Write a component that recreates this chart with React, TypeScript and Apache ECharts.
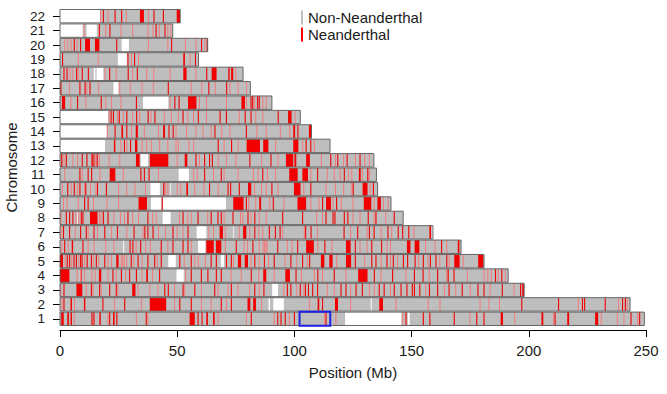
import React, { useEffect, useRef } from "react";
import * as echarts from "echarts";

// ---------- data ----------
const chromosomes = ["1","2","3","4","5","6","7","8","9","10","11","12","13","14","15","16","17","18","19","20","21","22"];

const chromLengthsMb = [249.3, 243.2, 198.0, 191.2, 180.9, 171.1, 159.1, 146.4, 141.2, 135.5, 135.0, 133.9, 115.2, 107.3, 102.5, 90.4, 81.2, 78.1, 59.1, 63.0, 48.1, 51.3];

// unassayed (white) regions per chromosome, [start, end] in Mb
const gapsMb: number[][][] = [
  [[121.6, 145.6], [148.4, 149.2]],
  [[89, 89.6], [91, 95.5], [132.6, 133]],
  [[90.5, 93]],
  [[49.7, 52.8], [8.5, 8.9]],
  [[46.2, 49.4], [68.6, 70]],
  [[58.9, 62], [27, 27.4]],
  [[58.3, 62.4], [73.8, 74.1], [158.6, 159.1]],
  [[43.8, 47.2], [7.4, 7.7]],
  [[38.8, 43.3], [44, 70.8]],
  [[38.6, 42.6], [47, 47.3]],
  [[50.6, 55]],
  [[34.4, 37.6]],
  [[0, 19.2]],
  [[0, 19.9]],
  [[0, 20.5]],
  [[35.4, 46.2]],
  [[22.8, 24.9]],
  [[14.4, 15.1], [15.6, 18.5]],
  [[24.7, 28.5]],
  [[26.3, 29.4]],
  [[0, 9.7], [11.3, 15.7]],
  [[0, 17.1]],
];

// Neanderthal tracts: a number is a single thin tract, a pair is [start, end]
const neanderthalTracts: (number | number[])[][] = [
  [[0.5,1.6],[3.1,3.8],[4.5,5.1],[13.4,13.9],14.5,[16.8,17.4],21.2,[22.6,23.3],[24,24.5],36.8,[55.3,57.5],58.9,60.6,[62.4,63.1],[65.3,66],81.6,92.9,94.3,96.1,100,113.5,147.6,155,157.8,168.2,177.8,180.9,[188,189],[205.4,206.2],211.2,[216.4,217.2],[228.3,229.6],243.6,247.3],
  [1.7,[4.5,5.1],[10.2,10.8],18.3,27.6,[38.3,45.3],51.1,56,68.8,73.1,[80,81.2],[82.4,83.6],[109.9,110.6],112,[117.3,118.6],[136.2,137.8],197,212.7,222.9,223.8,232.6,240,241.2],
  [1.7,[7,9.5],13.4,16.9,21.2,24,[30.8,32.2],44.7,46.2,52.5,57.5,66,73.1,83.1,87,97,98.5,102.5,104.7,106,107.8,109.9,119.9,122,126.3,129,136.2,138.3,142.6,145.5,148,150.3,151.2,153.5,157.6,161.1,166,171.6,178.3,180.9,188.7,196.5,[197.2,198]],
  [[0,4],9,[16.6,17.6],22.6,26.2,29.7,32.6,[36.8,37.5],42.5,56,60.3,63.1,66.7,68.8,81.6,[86.7,88],[96.1,98.1],100.7,110,117,[127.2,131.2],134.1,141.9,151.2,154.9,161.1,165.6,168.1,185.8,188.5],
  [[0,1.3],3.1,4.1,6,7,8.8,9.4,11.6,13.4,15.5,19.1,[24,25],30.4,33.3,37.5,40.4,43.2,51.1,56,64.5,66.7,71,73.1,[75.9,77.3],[78.8,80.2],83.1,87.2,91.4,98.5,103.5,106.5,[111.3,112.8],[114.9,116.3],[122,124.2],126,133,134.8,139.5,142.2,146.5,148.3,151.5,155,158,160.4,165,[168.2,170.5],[178.4,180.6]],
  [2,[5,5.6],9.8,[29.7,30.1],31.1,34.4,43.2,48.2,52.5,54.6,[62.4,65.6],[66.5,68.8],75.2,82.3,92.9,101.4,[105,108.3],113,[122,124],126,133,137.2,[148,149.5],[151.3,153.3],162.8,[169.7,170.4]],
  [1.5,4.1,8.8,11.2,14.5,19.1,24.5,31.6,[36,36.4],37.5,39.7,48.2,54.6,[68.1,69.5],[78.1,79.5],83.1,89.3,91.9,93.9,104.8,107.1,121.2,127,132,134,139.9,144.3,146.2,148.8,[157.6,158.3]],
  [2.7,4.1,5.5,9.1,9.8,[12.8,16],18.5,20.5,29,37.5,52.5,58.9,64.5,67.4,68.8,73.8,80.2,83.1,95,103.5,113.5,116.5,117.3,121.3,122.8,131.5,134.8,142.6],
  [10.5,12,[33.5,37.1],[43.4,43.8],[73.9,78.3],79.5,[85,85.8],91,[101.3,105],112,[113.5,115.6],118,[129.6,132.8],[135.4,136.9]],
  [3.3,6.1,8.5,11,16,19.8,[44,44.5],[53.9,54.6],63.8,71.7,72.8,76.5,[80.2,81.6],90.4,[99.8,102.6],107,125.1,[129.1,131.2],133.7],
  [8.5,12,13.5,[21.2,23.6],34.5,36,38,61.7,68.8,86.5,[97.8,101.4],[103.4,105.8],109.9,121.3,[127.5,128.3],131.3],
  [[0.5,1],2.7,9.5,11.5,[13.4,14],14.5,15.9,[32.4,34],[38.3,46.2],[53.2,54.3],58,61.7,63.8,65,81,90,[96.4,99.5],[100,100.8],[105,106.6],115.5,118.5,122.5,128],
  [[23,23.6],27.5,30.1,[32,33],67.5,73.2,[79.6,85.3],[86.7,88.9],[99.5,101.7],105,107],
  [23.5,[26.2,26.9],28.5,[32.3,33.2],[44,44.8],46.5,48.3,66.1,79.5,[99.5,100.3],101.5,[106.2,107.3]],
  [21.8,22.8,25.3,28.5,32.7,37.6,40.5,52.5,59,68.3,71,79,81.5,93.1,[97.3,98.8]],
  [[0.8,2.2],7.5,17.6,32.6,49,50.8,[54.6,58.2],[77.4,78.9],81.5,82.2,84.3,85],
  [0.4,8.5,10.7,12.8,46.2,63.5,71.1],
  [1.7,3,7.1,9.5,12.1,21.2,29.1,33,[52.6,54],62.6,[64.7,66.8],[71.8,72.4],[73,73.9]],
  [1.1,29,31.8,[52.6,53.3],57.8],
  [6.1,8.8,[10.7,12.8],[14.9,16.8],24.2,47.6,60.4,[62.6,63]],
  [16.8,21.3,41,44.8],
  [18.5,23.5,26.3,[34.1,35.8],40.1,44.1,[49.8,51.2]],
];

// faint (pale) Neanderthal calls, positions in Mb
const faintTracts: number[][] = [
  [6.1,20.5,32.6,37.5,67.4,79.5,91.4,97.8,112.8,117.7,146.2,174.9,194,210.6,230.9,237.8,240.6,246.5],
  [0.85,6.2,23.3,34.7,48.9,60.3,64.5,71,86,106.4,124,143.4,157.1,162.1,179.2,183,187.5,221.1,238.3,242],
  [0.3,11.2,14.1,17.6,24.7,33.3,38.3,41.8,48.9,53.2,60.3,67.4,71.7,75.9,80.9,85,95.5,101,104,114,117,124,132,134.1,141,156,164,168.8,175,183.5,193.7],
  [7.3,10.5,13.6,15,20.5,24,28,35,39.5,53.6,73,77.3,84.8,91.4,103,108.5,112,122,137,147.6,157.5,165,173.8,180.9,182.5,184,187,190],
  [2.2,5,8,10.5,14.3,16.5,20.5,22,26.2,26.8,27.4,28.5,31.5,35,41.5,53,57.5,59,62,74,81.5,85,89,96,101,105.5,118,130,137,141,144,153,157,162,166,172],
  [0.8,3.5,12,14.5,19.5,23,32.5,36.5,38.5,46,56,70.5,78.5,80,85,86.6,87.2,87.8,88.4,97,99,110,116,128,131,139.5,141,156,160,165],
  [0.5,6.5,12,16,22,28.5,35.4,42,45,50,52.5,63.5,65.5,70.5,76.5,81,84.8,86.5,95,104.2,109.8,124,131,137,141.5,151],
  [0.5,6.8,8,16.8,17.5,23,25.8,27.5,31,33.5,39.5,41,51,54.5,56,63,70,77,78,81.5,85,88,109.5,112,125,128,134,139],
  [1.5,3,7.8,14.3,20,25,80.5,83.5,89.5,95.5,107,110.5,116.5,120,125,134,138,140],
  [1,4.8,7.5,10.5,13,15.3,25,28.5,32,36.5,45,46,50,51.5,57.5,61.5,67.5,83,86,88,93,104,113.5,117.5,121,124.5,132.3],
  [2,9.5,17,27,42,57,58.5,65.5,70,76,82.5,84.5,88.5,92,107,114,117,119.5,123,124.5,129,132],
  [1.7,5.5,7.5,15.3,16.8,21,25.5,50,59.5,67.5,71,75,86,93,111.5,117.5,121,126,130,132],
  [26,28.5,35,37,39,42.5,46,49.5,50.5,55,57,70,76,92,103.5,108.5],
  [20.2,30.5,36,42,49.5,54,58,61,64.5,69,72.5,84,88,94,98],
  [20.9,24.5,27,31,34,38.8,44.5,47.5,50.5,54.5,57,62.5,76.5,83.5,86.5,100.3],
  [4.6,11,19.5,22,26,47,59.5,62.5,71,79.5,83,86.5,88],
  [4,11.5,16.5,25.5,30,35,39.8,56,60.5,66.2,72.5,76,79.6],
  [4.3,5.5,7.8,19.2,24,31,37,40,47,58,75],
  [7.8,16.3,30.5,33.5,55.5],
  [2,3.3,4.7,7.3,37.7,46,53.5,58,61.8],
  [10.3,19.5,26,31,37.5,39.7,42.4,46,47.3],
  [17.3,20.5,28.3,37.7],
];

// highlighted region: [chromosome index, start Mb, end Mb]
const highlightRegion = [[0, 102.2, 115.3]];

const xMin = 0;
const xMax = 250;
const xInterval = 50;

// ---------- build series data ----------
const bodyData = chromLengthsMb.map((len, i) => [i, 0, len]);
const gapData: number[][] = [];
gapsMb.forEach((list, i) => list.forEach((g) => gapData.push([i, g[0], g[1]])));
const redData: number[][] = [];
neanderthalTracts.forEach((list, i) =>
  list.forEach((t) => {
    if (Array.isArray(t)) redData.push([i, t[0], t[1]]);
    else redData.push([i, t, t]);
  })
);
const faintData: number[][] = [];
faintTracts.forEach((list, i) => list.forEach((p) => faintData.push([i, p, p])));

const FONT = "'Liberation Sans', Arial, Helvetica, sans-serif";

function makeRender(style: any, minWidth: number, heightFactor = 0.93) {
  return (params: any, api: any) => {
    const cat = api.value(0);
    const s = api.value(1);
    const e = api.value(2);
    const p1 = api.coord([s, cat]);
    const p2 = api.coord([e, cat]);
    const band = api.size([0, 1])[1];
    const h = band * heightFactor;
    let w = p2[0] - p1[0];
    let x = p1[0];
    if (w < minWidth) {
      x = x - (minWidth - w) / 2;
      w = minWidth;
    }
    return {
      type: "rect",
      shape: { x, y: p1[1] - h / 2, width: w, height: h },
      style,
    };
  };
}

export default function App() {
  const ref = useRef<HTMLDivElement>(null);
  useEffect(() => {
    if (!ref.current) return;
    const chart = echarts.init(ref.current, undefined, { renderer: "svg" });
    const common = { type: "custom", encode: { x: [1, 2], y: 0 }, silent: true, clip: false };
    chart.setOption({
      animation: false,
      backgroundColor: "#ffffff",
      textStyle: { fontFamily: FONT },
      grid: { left: 60, right: 21, top: 9, bottom: 68, containLabel: false, outerBoundsMode: "none" },
      legend: {
        orient: "vertical",
        left: 301,
        top: 10,
        padding: 0,
        itemWidth: 2,
        itemHeight: 14,
        itemGap: 2,
        selectedMode: false,
        textStyle: { fontSize: 15, color: "#1a1a1a", fontFamily: FONT },
        data: [
          { name: "Non-Neanderthal", icon: "rect", itemStyle: { color: "#bebebe" } },
          { name: "Neanderthal", icon: "rect", itemStyle: { color: "#ff0000" } },
        ],
      },
      xAxis: {
        type: "value",
        min: xMin,
        max: xMax,
        interval: xInterval,
        offset: 4,
        name: "Position (Mb)",
        nameLocation: "middle",
        nameGap: 35,
        nameTextStyle: { fontSize: 15, color: "#1a1a1a", fontFamily: FONT },
        axisLine: { show: true, lineStyle: { color: "#000", width: 1 } },
        axisTick: { show: true, length: 7, lineStyle: { color: "#000" } },
        axisLabel: { fontSize: 15, color: "#1a1a1a", margin: 13, fontFamily: FONT },
        splitLine: { show: false },
      },
      yAxis: {
        type: "category",
        data: chromosomes,
        name: "Chromosome",
        nameLocation: "middle",
        nameGap: 41,
        nameRotate: 90,
        nameTextStyle: { fontSize: 15, color: "#1a1a1a", fontFamily: FONT },
        axisLine: { show: false },
        axisTick: { show: true, length: 7, alignWithLabel: true, interval: 0, lineStyle: { color: "#000" } },
        axisLabel: { fontSize: 13.5, lineHeight: 12, color: "#1a1a1a", margin: 15, interval: 0, fontFamily: FONT },
        splitLine: { show: false },
      },
      series: [
        {
          ...common,
          name: "Non-Neanderthal",
          itemStyle: { color: "#bebebe" },
          renderItem: makeRender({ fill: "#bebebe" }, 0),
          data: bodyData,
          z: 1,
        },
        {
          ...common,
          name: "gaps",
          renderItem: makeRender({ fill: "#ffffff" }, 0),
          data: gapData,
          z: 2,
        },
        {
          ...common,
          name: "faint",
          renderItem: makeRender({ fill: "#f47a7a" }, 1),
          data: faintData,
          z: 3,
        },
        {
          ...common,
          name: "Neanderthal",
          itemStyle: { color: "#ff0000" },
          renderItem: makeRender({ fill: "#f20000" }, 1.1),
          data: redData,
          z: 4,
        },
        {
          ...common,
          name: "outline",
          renderItem: makeRender({ fill: "none", stroke: "#666666", lineWidth: 1 }, 0),
          data: bodyData,
          z: 5,
        },
        {
          ...common,
          name: "highlight",
          renderItem: makeRender({ fill: "none", stroke: "#1f1fe6", lineWidth: 2 }, 0, 0.97),
          data: highlightRegion,
          z: 6,
        },
      ],
    });
    return () => chart.dispose();
  }, []);
  return (
    <div
      ref={ref}
      style={{ position: "absolute", left: 0, top: 0, width: 667, height: 394 }}
    />
  );
}
